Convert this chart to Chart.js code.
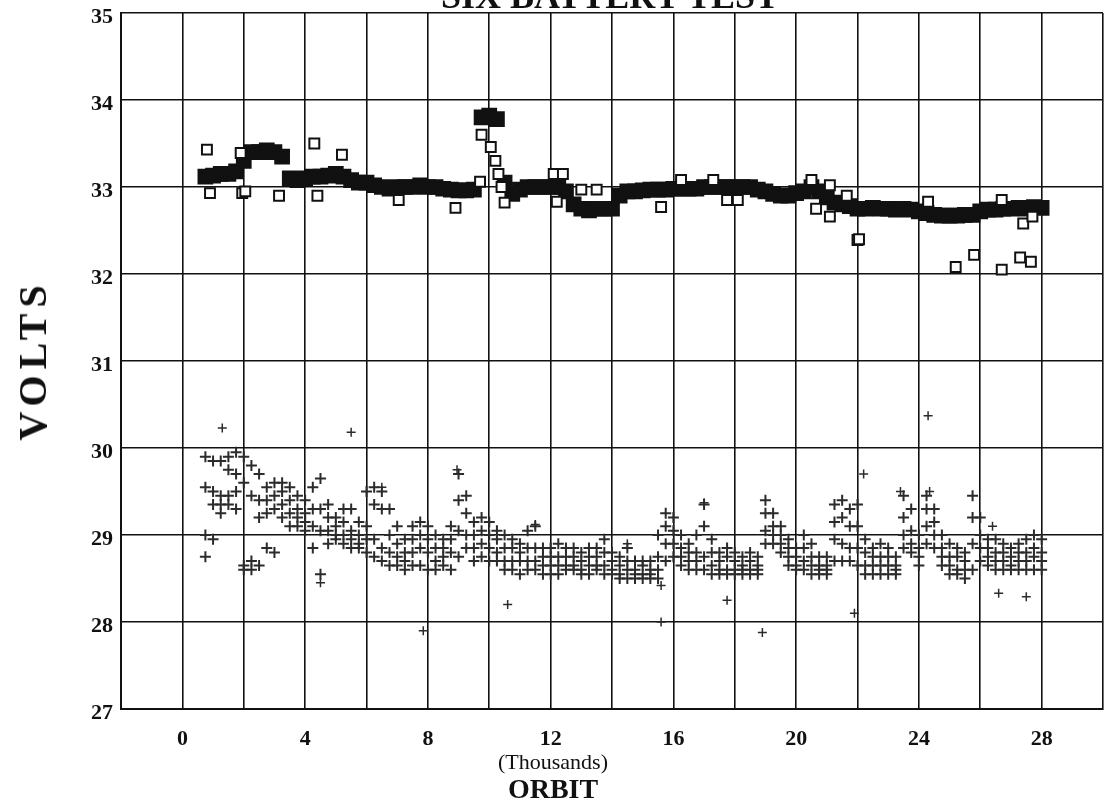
<!DOCTYPE html>
<html>
<head>
<meta charset="utf-8">
<title>Six Battery Test</title>
<script src="https://cdn.jsdelivr.net/npm/chart.js@4.4.0/dist/chart.umd.min.js"></script>
<style>
  html, body { margin: 0; padding: 0; background: #fff; overflow: hidden; }
  #wrap { position: relative; width: 1104px; height: 800px; overflow: hidden; }
  #myChart { position: absolute; left: 0; top: 0; }
  .lbl { position: absolute; font-family: 'Liberation Serif', 'Times New Roman', serif; color: #111;
         white-space: nowrap; line-height: 1; }
  #title { left: 610px; top: -22px; font-size: 36px; font-weight: bold; transform: translateX(-50%); }
  #volts { left: 33px; top: 360px; font-size: 40px; font-weight: bold; letter-spacing: 6px;
           transform: translate(-50%, -50%) rotate(-90deg); }
  #thou { left: 553px; top: 751px; font-size: 22px; transform: translateX(-50%); }
  #orbit { left: 553px; top: 775px; font-size: 28px; font-weight: bold; transform: translateX(-50%); }
</style>
</head>
<body>
<div id="wrap">
  <canvas id="myChart" width="1104" height="800"></canvas>
  <div class="lbl" id="title">SIX BATTERY TEST</div>
  <div class="lbl" id="volts">VOLTS</div>
  <div class="lbl" id="thou">(Thousands)</div>
  <div class="lbl" id="orbit">ORBIT</div>
</div>
<script>
// orbit in thousands, sampled along the plot
const orbit = [0.75, 1, 1.25, 1.5, 1.75, 2, 2.25, 2.5, 2.75, 3, 3.25, 3.5, 3.75, 4, 4.25, 4.5, 4.75, 5, 5.25, 5.5,
  5.75, 6, 6.25, 6.5, 6.75, 7, 7.25, 7.5, 7.75, 8, 8.25, 8.5, 8.75, 9, 9.25, 9.5, 9.75, 10, 10.25, 10.5,
  10.75, 11, 11.25, 11.5, 11.75, 12, 12.25, 12.5, 12.75, 13, 13.25, 13.5, 13.75, 14, 14.25, 14.5, 14.75, 15, 15.25, 15.5,
  15.75, 16, 16.25, 16.5, 16.75, 17, 17.25, 17.5, 17.75, 18, 18.25, 18.5, 18.75, 19, 19.25, 19.5, 19.75, 20, 20.25, 20.5,
  20.75, 21, 21.25, 21.5, 21.75, 22, 22.25, 22.5, 22.75, 23, 23.25, 23.5, 23.75, 24, 24.25, 24.5, 24.75, 25, 25.25, 25.5,
  25.75, 26, 26.25, 26.5, 26.75, 27, 27.25, 27.5, 27.75, 28];

// battery voltage (squares band)
const squareVolts = [33.12, 33.13, 33.15, 33.15, 33.18, 33.3, 33.4, 33.4, 33.42, 33.4, 33.35, 33.1, 33.08, 33.1, 33.12, 33.12, 33.13, 33.15, 33.12, 33.08,
  33.05, 33.05, 33.02, 33.0, 32.98, 33.0, 33.0, 33.0, 33.02, 33.0, 33.0, 32.98, 32.97, 32.96, 32.96, 32.97, 33.8, 33.82, 33.78, 33.05,
  32.92, 32.97, 33.0, 33.0, 33.0, 33.0, 33.0, 32.95, 32.8, 32.75, 32.73, 32.75, 32.75, 32.75, 32.9, 32.95, 32.95, 32.96, 32.97, 32.97,
  32.97, 32.98, 32.98, 32.98, 32.98, 33.0, 33.0, 33.0, 33.0, 33.0, 33.0, 33.0, 32.97, 32.95, 32.92, 32.9, 32.9, 32.93, 32.95, 33.0,
  32.95, 32.88, 32.82, 32.8, 32.78, 32.75, 32.75, 32.76, 32.75, 32.75, 32.74, 32.75, 32.74, 32.72, 32.7, 32.68, 32.67, 32.67, 32.67, 32.68,
  32.68, 32.72, 32.74, 32.74, 32.75, 32.75, 32.76, 32.75, 32.77, 32.76];

// stray squares away from the band
const squareOddOrbit = [0.8, 0.9, 1.9, 1.95, 2.05, 3.15, 4.3, 4.4, 5.2, 7.05, 8.9, 9.7, 9.75, 10.05, 10.2, 10.3, 10.4, 10.5, 12.1, 12.4,
  12.2, 13.0, 13.5, 15.6, 16.25, 17.3, 17.75, 18.1, 20.5, 20.65, 21.1, 21.1, 21.65, 22.0, 22.05, 24.3, 25.2, 25.8, 26.7, 26.7,
  27.3, 27.4, 27.65, 27.7];
const squareOddVolts = [33.43, 32.93, 33.39, 32.93, 32.95, 32.9, 33.5, 32.9, 33.37, 32.85, 32.76, 33.06, 33.6, 33.46, 33.3, 33.15, 33.0, 32.82, 33.15, 33.15,
  32.83, 32.97, 32.97, 32.77, 33.08, 33.08, 32.85, 32.85, 33.08, 32.75, 33.02, 32.66, 32.9, 32.39, 32.4, 32.83, 32.08, 32.22, 32.05, 32.85,
  32.19, 32.58, 32.14, 32.66];

// cell readings (plus cloud), top to bottom of the cloud
const plusTop = [29.9, 29.85, 29.85, 29.9, 29.95, 29.9, 29.8, 29.7, 29.55, 29.6, 29.6, 29.55, 29.45, 29.4, 29.55, 29.65, 29.35, 29.2, 29.3, 29.3,
  29.15, 29.5, 29.55, 29.5, 29.3, 29.1, 28.95, 29.1, 29.15, 29.1, 29.0, 28.95, 29.1, 29.7, 29.45, 29.15, 29.2, 29.15, 29.05, 29.0,
  28.95, 28.9, 29.05, 29.1, 28.85, 28.85, 28.9, 28.85, 28.85, 28.8, 28.85, 28.85, 28.95, 28.8, 28.75, 28.85, 28.7, 28.7, 28.7, 29.0,
  29.25, 29.2, 29.0, 28.9, 29.0, 29.35, 28.95, 28.8, 28.85, 28.8, 28.75, 28.8, 28.75, 29.4, 29.25, 29.1, 28.95, 28.85, 29.0, 28.9,
  28.75, 28.75, 29.35, 29.4, 29.3, 29.35, 28.95, 28.85, 28.9, 28.85, 28.75, 29.45, 29.3, 29.0, 29.45, 29.3, 29.0, 28.9, 28.85, 28.8,
  29.45, 29.2, 28.95, 28.95, 28.9, 28.85, 28.9, 28.95, 29.0, 28.95];
const plusUpper = [29.55, 29.5, 29.45, 29.75, 29.7, 29.6, 29.45, 29.4, 29.4, 29.45, 29.5, 29.4, 29.3, 29.25, 29.3, 29.3, 29.2, 29.1, 29.15, 29.05,
  29.0, 29.1, 29.35, 29.3, 29.0, 28.9, 28.8, 28.95, 29.0, 28.95, 28.85, 28.85, 28.95, 29.4, 29.25, 29.0, 29.05, 29.0, 28.95, 28.85,
  28.85, 28.8, 28.85, 28.85, 28.75, 28.75, 28.75, 28.75, 28.75, 28.7, 28.75, 28.75, 28.8, 28.7, 28.65, 28.7, 28.6, 28.65, 28.6, 28.75,
  29.1, 29.05, 28.85, 28.8, 28.8, 29.1, 28.8, 28.7, 28.75, 28.7, 28.65, 28.7, 28.65, 29.25, 29.1, 29.0, 28.85, 28.75, 28.85, 28.75,
  28.65, 28.65, 29.15, 29.2, 29.1, 29.1, 28.8, 28.75, 28.75, 28.75, 28.65, 29.2, 29.05, 28.85, 29.3, 29.15, 28.85, 28.75, 28.75, 28.7,
  29.2, 29.0, 28.85, 28.8, 28.8, 28.75, 28.8, 28.8, 28.85, 28.8];
const plusLower = [29.0, 29.35, 29.35, 29.45, 29.5, 28.65, 28.7, 29.2, 29.25, 29.3, 29.35, 29.25, 29.2, 29.15, 29.1, 29.05, 29.05, 29.0, 29.0, 28.95,
  28.9, 28.95, 28.95, 28.85, 28.8, 28.75, 28.7, 28.8, 28.85, 28.8, 28.7, 28.75, 28.8, 29.05, 29.0, 28.85, 28.9, 28.85, 28.8, 28.7,
  28.7, 28.7, 28.7, 28.7, 28.65, 28.65, 28.65, 28.65, 28.65, 28.6, 28.65, 28.65, 28.65, 28.6, 28.55, 28.6, 28.55, 28.55, 28.55, 28.6,
  28.9, 28.9, 28.75, 28.7, 28.7, 28.75, 28.65, 28.6, 28.6, 28.6, 28.6, 28.6, 28.6, 29.05, 29.0, 28.9, 28.75, 28.65, 28.7, 28.65,
  28.6, 28.6, 28.95, 28.9, 28.85, 28.85, 28.65, 28.65, 28.65, 28.65, 28.6, 29.0, 28.9, 28.75, 29.1, 29.0, 28.75, 28.65, 28.6, 28.6,
  28.9, 28.85, 28.75, 28.7, 28.7, 28.65, 28.7, 28.7, 28.75, 28.7];
const plusBottom = [28.75, 28.95, 29.25, 29.35, 29.3, 28.6, 28.6, 28.65, 28.85, 28.8, 29.2, 29.1, 29.1, 29.05, 28.85, 28.55, 28.9, 28.95, 28.9, 28.85,
  28.85, 28.8, 28.75, 28.7, 28.65, 28.65, 28.6, 28.65, 28.65, 28.6, 28.6, 28.65, 28.6, 28.75, 28.85, 28.7, 28.75, 28.7, 28.7, 28.6,
  28.6, 28.55, 28.6, 28.6, 28.55, 28.55, 28.55, 28.6, 28.6, 28.55, 28.55, 28.6, 28.55, 28.55, 28.5, 28.5, 28.5, 28.5, 28.5, 28.5,
  28.7, 28.75, 28.65, 28.6, 28.6, 28.6, 28.55, 28.55, 28.55, 28.55, 28.55, 28.55, 28.55, 28.9, 28.9, 28.8, 28.65, 28.6, 28.6, 28.55,
  28.55, 28.55, 28.7, 28.7, 28.7, 28.65, 28.55, 28.55, 28.55, 28.55, 28.55, 28.85, 28.8, 28.65, 28.9, 28.85, 28.65, 28.55, 28.55, 28.5,
  28.6, 28.7, 28.65, 28.6, 28.6, 28.6, 28.6, 28.6, 28.6, 28.6];

// stray plus readings
const plusOddOrbit = [1.3, 5.5, 7.85, 10.6, 15.6, 15.6, 17.75, 18.9, 21.9, 22.2, 24.3, 26.4, 26.6, 27.5, 4.5, 6.5, 8.95, 11.5, 14.5, 17.0, 23.4, 24.35];
const plusOddVolts = [30.23, 30.18, 27.9, 28.2, 28.42, 28.0, 28.25, 27.88, 28.1, 29.7, 30.37, 29.1, 28.33, 28.29, 28.45, 29.55, 29.75, 29.12, 28.9, 29.37, 29.5, 29.5];

const xTicks = [0, 4, 8, 12, 16, 20, 24, 28];

const pairs = (xs, ys) => xs.map((x, i) => ({ x: x, y: ys[i] }));

const ink = '#111';
const serif = "'Liberation Serif', 'Times New Roman', serif";

const plusSet = (ys) => ({
  data: pairs(orbit, ys),
  pointStyle: 'cross',
  pointRadius: 5.5,
  borderWidth: 2,
  borderColor: '#2b2b2b'
});

const ctx = document.getElementById('myChart');

new Chart(ctx, {
  type: 'scatter',
  data: {
    datasets: [
      {
        data: pairs(squareOddOrbit, squareOddVolts),
        pointStyle: 'rect',
        pointRadius: 7,
        borderWidth: 2,
        borderColor: ink,
        backgroundColor: '#fff'
      },
      {
        data: pairs(orbit, squareVolts),
        pointStyle: 'rect',
        pointRadius: 9,
        borderWidth: 3,
        borderColor: ink,
        backgroundColor: ink
      },
      plusSet(plusTop),
      plusSet(plusUpper),
      plusSet(plusLower),
      plusSet(plusBottom),
      {
        data: pairs(plusOddOrbit, plusOddVolts),
        pointStyle: 'cross',
        pointRadius: 4.5,
        borderWidth: 1.5,
        borderColor: '#2b2b2b'
      }
    ]
  },
  options: {
    responsive: false,
    animation: false,
    events: [],
    layout: { autoPadding: false, padding: { left: 0, right: 1, top: 13, bottom: 0 } },
    plugins: {
      legend: { display: false },
      tooltip: { enabled: false }
    },
    scales: {
      x: {
        type: 'linear',
        min: -2,
        max: 30,
        afterFit: (scale) => {
          scale.height = 91;
          scale.paddingLeft = 0;
          scale.paddingRight = 0;
        },
        ticks: {
          stepSize: 2,
          padding: 17,
          maxRotation: 0,
          autoSkip: false,
          color: ink,
          font: { family: serif, size: 22, weight: 'bold' },
          callback: (v) => xTicks.includes(v) ? String(v) : ''
        },
        grid: { color: ink, lineWidth: 1.6, drawTicks: false },
        border: { color: ink, width: 2 }
      },
      y: {
        min: 27,
        max: 35,
        afterFit: (scale) => {
          scale.width = 121;
          scale.paddingTop = 0;
          scale.paddingBottom = 0;
        },
        ticks: {
          stepSize: 1,
          padding: 8,
          labelOffset: 4,
          color: ink,
          font: { family: serif, size: 22, weight: 'bold' }
        },
        grid: { color: ink, lineWidth: 1.6, drawTicks: false },
        border: { color: ink, width: 2 }
      }
    }
  }
});
</script>
</body>
</html>
